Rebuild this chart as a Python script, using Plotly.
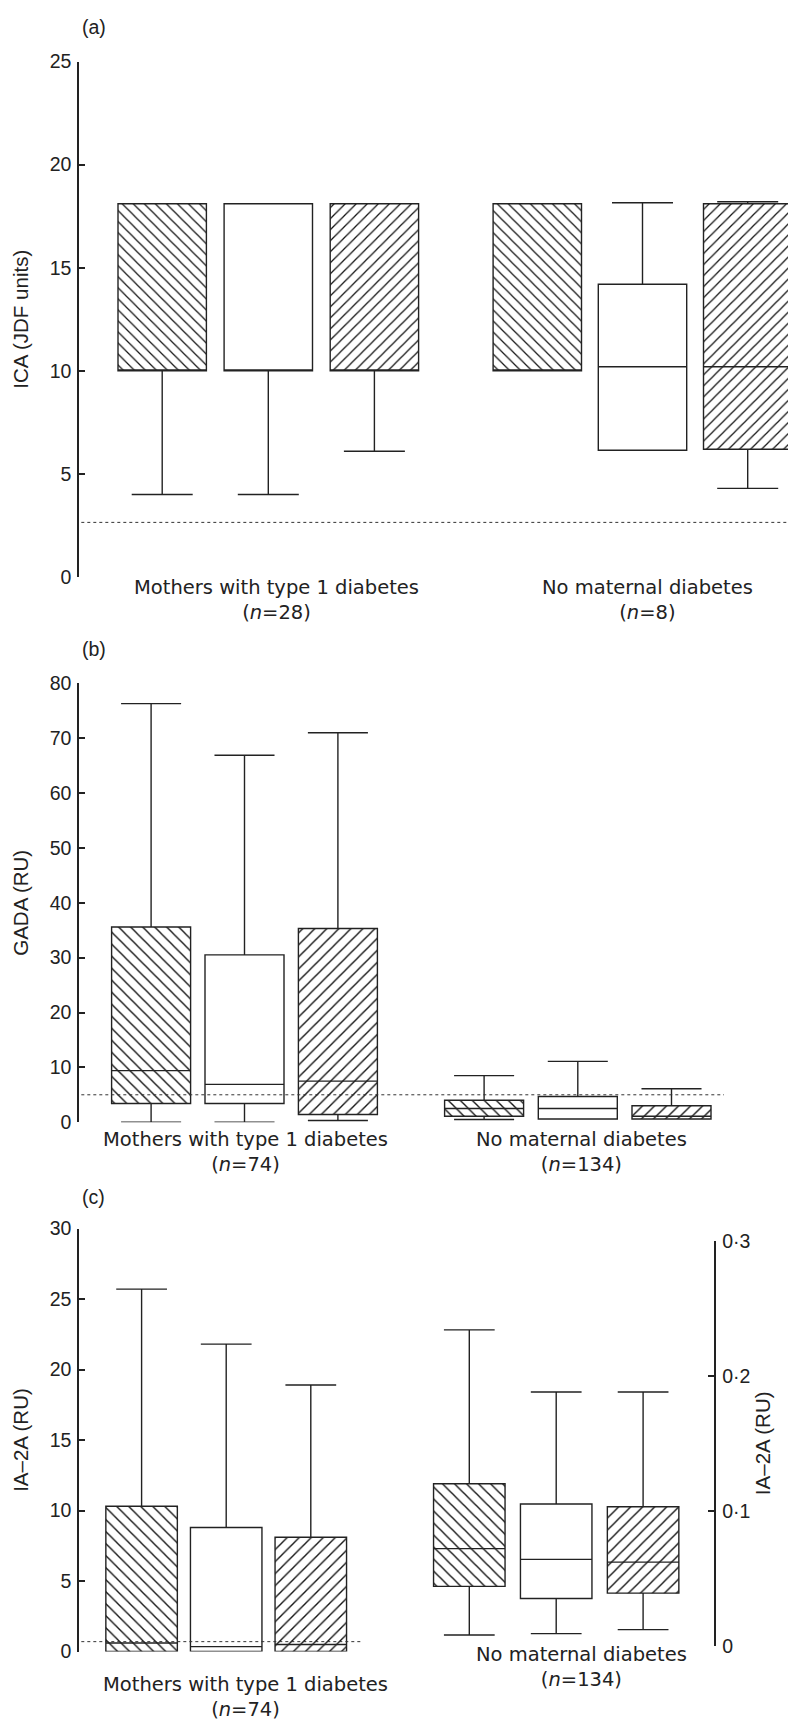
import plotly.graph_objects as go

# ---------------- data ----------------
groups = ["Mothers with type 1 diabetes", "No maternal diabetes"]
series = ["Series 1", "Series 2", "Series 3"]

# (a) ICA (JDF units) -- values by [series][group]
n_ica = [28, 8]
ica_lower = [[4.0, 10.0], [4.0, 6.15], [6.1, 4.3]]
ica_q1 = [[10.0, 10.0], [10.0, 6.15], [10.0, 6.2]]
ica_median = [[10.0, 10.0], [10.0, 10.2], [10.0, 10.2]]
ica_q3 = [[18.1, 18.1], [18.1, 14.2], [18.1, 18.1]]
ica_upper = [[18.1, 18.1], [18.1, 18.15], [18.1, 18.2]]
ica_cutoff = 2.65

# (b) GADA (RU)
n_gada = [74, 134]
gada_lower = [[0.0, 0.5], [0.0, 0.6], [0.3, 0.6]]
gada_q1 = [[3.4, 1.1], [3.4, 0.6], [1.4, 0.6]]
gada_median = [[9.4, 2.5], [6.9, 2.5], [7.5, 1.1]]
gada_q3 = [[35.6, 4.0], [30.5, 4.7], [35.3, 3.0]]
gada_upper = [[76.3, 8.5], [66.9, 11.1], [71.0, 6.1]]
gada_cutoff = 5.0

# (c) IA-2A (RU): group 1 on left axis (0-30), group 2 on right axis (0-0.3)
n_ia2a = [74, 134]
ia2a_lower = [[0.0, 0.008], [0.0, 0.009], [0.0, 0.012]]
ia2a_q1 = [[0.0, 0.044], [0.0, 0.035], [0.0, 0.039]]
ia2a_median = [[0.6, 0.072], [0.35, 0.064], [0.5, 0.062]]
ia2a_q3 = [[10.3, 0.120], [8.8, 0.105], [8.1, 0.103]]
ia2a_upper = [[25.7, 0.234], [21.8, 0.188], [18.9, 0.188]]
ia2a_cutoff = 0.7

# ---------------- styling / layout ----------------
W, H = 788, 1734
AXIS_X = 79.3
LINE = "#222222"
HATCH = ["\\", "", "/"]
TICK_FONT = dict(family="Liberation Sans, Arial, sans-serif", size=19.5, color="#222")
TITLE_FONT = dict(family="Liberation Sans, Arial, sans-serif", size=20.5, color="#222")
LABEL_FONT = dict(family="DejaVu Sans, sans-serif", size=19.5, color="#222")
LETTER_FONT = dict(family="Liberation Sans, Arial, sans-serif", size=19.5, color="#222")


def xp(px):
    return px / W


def yp(py):
    return 1 - py / H


fig = go.Figure()
layout = {}
shapes = []
annotations = []


def add_boxes(xa, ya, positions, stats, gidx, bw, ww, hatch):
    lower, q1, med, q3, upper = stats
    for s in range(3):
        pos = [positions[s][g] for g in gidx]
        lo = [lower[s][g] for g in gidx]
        a = [q1[s][g] for g in gidx]
        m = [med[s][g] for g in gidx]
        b = [q3[s][g] for g in gidx]
        up = [upper[s][g] for g in gidx]
        if HATCH[s]:
            fig.add_trace(go.Bar(
                x=pos, y=[bb - aa for aa, bb in zip(a, b)], base=a, width=[bw] * len(pos),
                marker=dict(color="white", line=dict(width=0),
                            pattern=dict(shape=HATCH[s], size=hatch, solidity=0.16,
                                         fgcolor="#111111", bgcolor="white", fillmode="replace")),
                xaxis=xa, yaxis=ya, hoverinfo="skip", showlegend=False, name=series[s]))
        fig.add_trace(go.Box(
            x=pos, lowerfence=lo, q1=a, median=m, q3=b, upperfence=up,
            width=bw, whiskerwidth=ww, boxpoints=False,
            fillcolor="rgba(0,0,0,0)" if HATCH[s] else "white",
            line=dict(color=LINE, width=1.4),
            xaxis=xa, yaxis=ya, hoverinfo="skip", showlegend=False, name=series[s]))


def yaxis_dict(domain, rng, tickvals, ticktext, title, anchor, side="left", standoff=16):
    return dict(domain=domain, range=rng, anchor=anchor, side=side,
                showline=True, linecolor=LINE, linewidth=2,
                ticks="inside", ticklen=6, tickwidth=2, tickcolor=LINE,
                tickmode="array", tickvals=tickvals, ticktext=ticktext,
                showgrid=False, zeroline=False, tickfont=TICK_FONT, ticklabelstandoff=2,
                title=dict(text=title, font=TITLE_FONT, standoff=standoff), fixedrange=True)


def xaxis_dict(x_end, anchor):
    return dict(domain=[xp(AXIS_X), xp(x_end)], range=[AXIS_X, x_end], visible=False,
                anchor=anchor, fixedrange=True)


panels = [
    dict(ax="", stats=(ica_lower, ica_q1, ica_median, ica_q3, ica_upper), cutoff=ica_cutoff, n=n_ica,
         title="ICA (JDF units)", rng=[0, 25], ticks=[0, 5, 10, 15, 20, 25], ypx=(573.3, 51.2),
         xend=788, centers=[268.3, 642.5], spacing=[106.1, 105.2], bw=88.4, ww=0.69, hatch=7.8,
         cut_end=788, letter="(a)", letter_y=16.7, labels=[(276.4, 597), (647.7, 597)]),
    dict(ax="2", stats=(gada_lower, gada_q1, gada_median, gada_q3, gada_upper), cutoff=gada_cutoff, n=n_gada,
         title="GADA (RU)", rng=[0, 80], ticks=list(range(0, 81, 10)), ypx=(1125.5, 681.0),
         xend=788, centers=[244.5, 577.8], spacing=[93.4, 93.7], bw=79.0, ww=0.76, hatch=8.5,
         cut_end=724, letter="(b)", letter_y=646.7, labels=[(245.0, 1156), (581.6, 1156)]),
    dict(ax="3", stats=(ia2a_lower, ia2a_q1, ia2a_median, ia2a_q3, ia2a_upper), cutoff=ia2a_cutoff, n=n_ia2a,
         title="IA\u20132A (RU)", rng=[0, 30], ticks=[0, 5, 10, 15, 20, 25, 30], ypx=(1661.6, 1233.2),
         xend=714.3, centers=[226.2, 556.2], spacing=[84.6, 86.9], bw=71.5, ww=0.71, hatch=8.5,
         cut_end=361.8, letter="(c)", letter_y=1201.0, labels=[(245.0, 1708), (581.6, 1677)]),
]

for p in panels:
    xa, ya = "x" + p["ax"], "y" + p["ax"]
    positions = [[p["centers"][g] + (s - 1) * p["spacing"][g] for g in range(2)] for s in range(3)]
    layout["xaxis" + p["ax"]] = xaxis_dict(p["xend"], ya)
    layout["yaxis" + p["ax"]] = yaxis_dict([yp(p["ypx"][0]), yp(p["ypx"][1])], p["rng"], p["ticks"],
                                           [str(t) for t in p["ticks"]], p["title"], xa)
    if p["ax"] == "3":
        # group 1 on the left axis, group 2 on the right axis
        add_boxes(xa, ya, positions, p["stats"], [0], p["bw"], p["ww"], p["hatch"])
        layout["xaxis4"] = xaxis_dict(p["xend"], "y4")
        rt = [0, 0.1, 0.2, 0.3]
        layout["yaxis4"] = yaxis_dict([yp(1655.8), yp(1245.6)], [0, 0.3], rt,
                                      [f"{t:.1f}".replace(".", "\u00b7") if t else "0" for t in rt],
                                      "IA\u20132A (RU)", "x4", side="right", standoff=6)
        add_boxes("x4", "y4", positions, p["stats"], [1], p["bw"], p["ww"], p["hatch"])
    else:
        add_boxes(xa, ya, positions, p["stats"], [0, 1], p["bw"], p["ww"], p["hatch"])

    shapes.append(dict(type="line", xref=xa, yref=ya, x0=AXIS_X + 2, x1=p["cut_end"],
                       y0=p["cutoff"], y1=p["cutoff"], layer="above",
                       line=dict(color="#333", width=1, dash="dot")))
    annotations.append(dict(text=p["letter"], x=xp(80), y=yp(p["letter_y"]), xref="paper", yref="paper",
                            xanchor="left", yanchor="middle", showarrow=False, font=LETTER_FONT))
    for g in range(2):
        cx, cy = p["labels"][g]
        annotations.append(dict(text=f"{groups[g]}<br>(<i>n</i>={p['n'][g]})", x=xp(cx), y=yp(cy),
                                xref="paper", yref="paper", xanchor="center", yanchor="middle",
                                align="center", showarrow=False, font=LABEL_FONT))

fig.update_layout(
    width=W, height=H, margin=dict(l=0, r=0, t=0, b=0),
    paper_bgcolor="white", plot_bgcolor="rgba(0,0,0,0)",
    showlegend=False, boxmode="overlay", barmode="overlay",
    shapes=shapes, annotations=annotations, **layout)

fig.write_html("out.html", config={"displayModeBar": False},
               post_script="document.body.style.margin='0';document.body.style.overflow='hidden';")
